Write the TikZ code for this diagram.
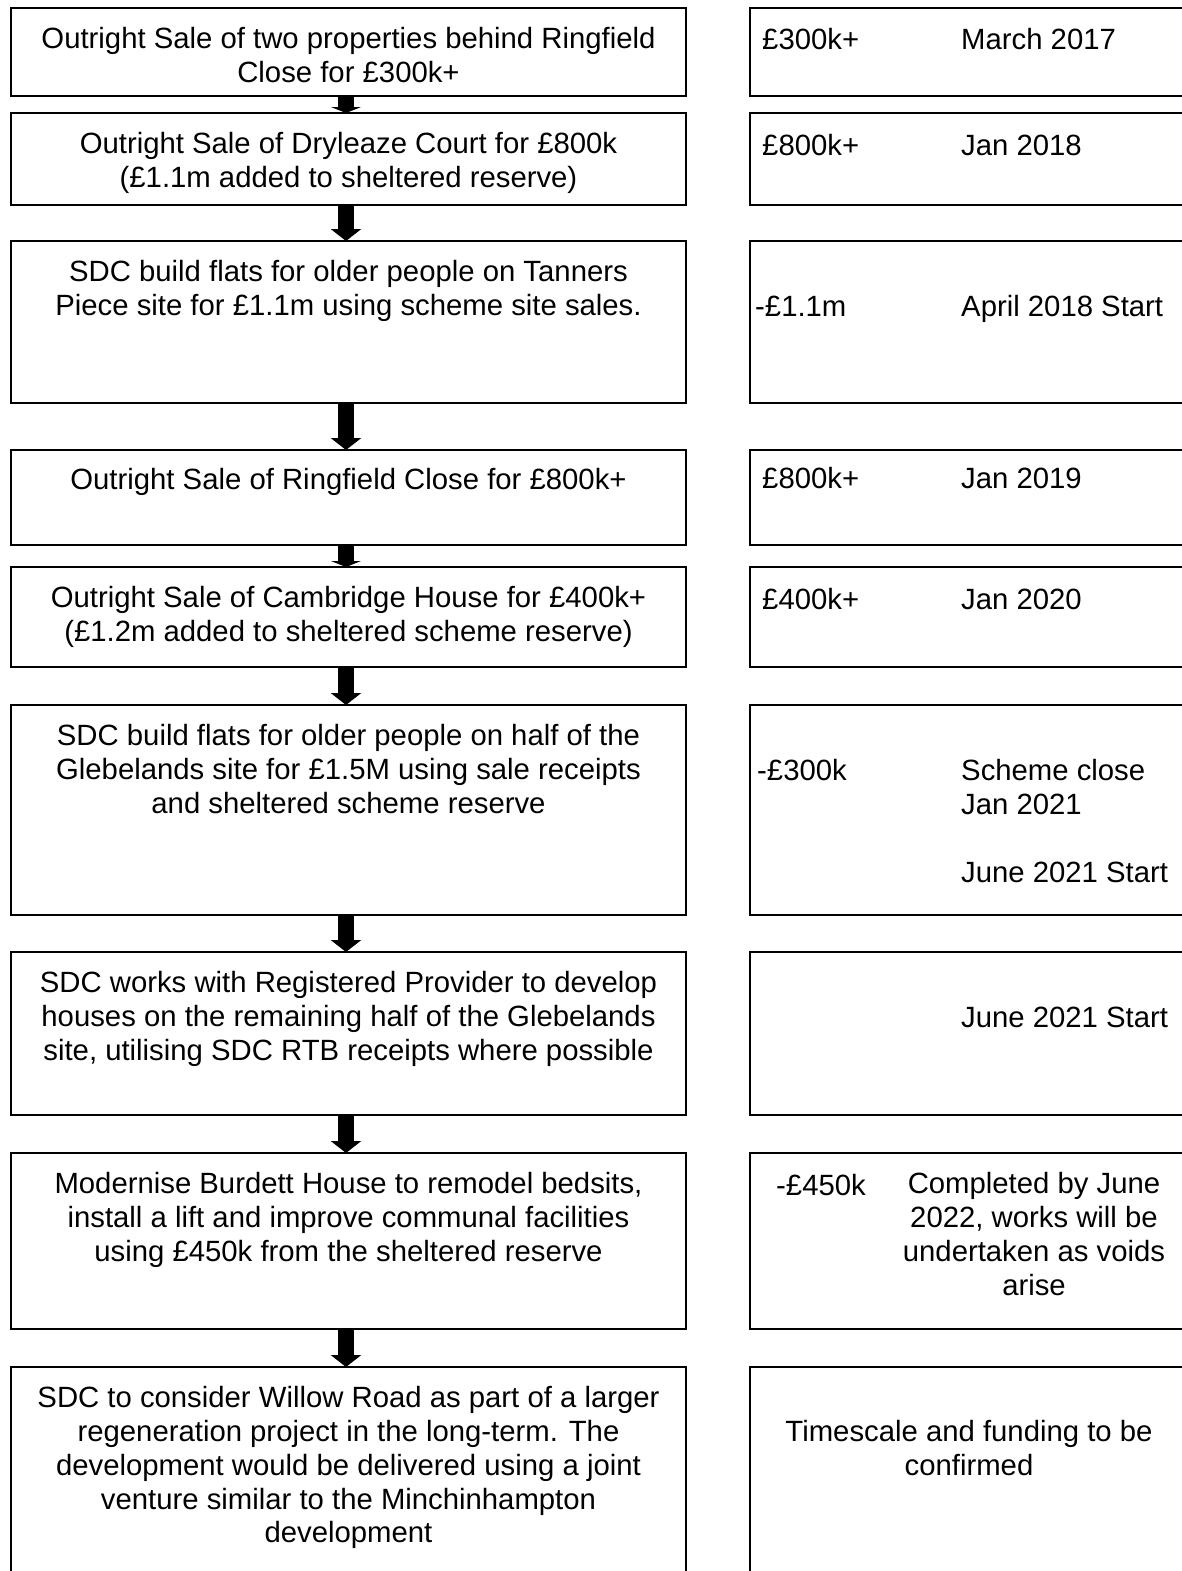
\documentclass[tikz,border=0pt]{standalone}
\usepackage{fontspec}
\setmainfont{Liberation Sans}
\usetikzlibrary{arrows.meta}
\tikzset{
  box/.style={draw, line width=1.6pt, inner sep=0pt, outer sep=0pt, rectangle},
  lbox/.style={box, minimum width=675pt},
  rbox/.style={box, minimum width=460pt},
  txt/.style={inner sep=0pt, align=center, anchor=north, font=\fontsize{29.3}{33.8}\selectfont, execute at begin node=\strut},
  rtxt/.style={inner sep=0pt, anchor=base west, font=\fontsize{29.3}{33.8}\selectfont},
  flow/.style={line width=16pt, -{Triangle[width=30pt,length=12pt]}},
  flowshort/.style={line width=16pt, -{Triangle[width=30pt,length=6pt]}},
}
\begin{document}
\begin{tikzpicture}[x=1pt,y=-1pt]
\clip (0,0) rectangle (1182,1571);
\fill[white] (0,0) rectangle (1182,1571);
\coordinate (ax) at (346,0);
% left boxes
\node[lbox, minimum height=88pt]  (L1) at (348.5,52) {};
\node[lbox, minimum height=92pt]  (L2) at (348.5,159) {};
\node[lbox, minimum height=162pt] (L3) at (348.5,322) {};
\node[lbox, minimum height=95pt]  (L4) at (348.5,497.5) {};
\node[lbox, minimum height=100pt] (L5) at (348.5,617) {};
\node[lbox, minimum height=210pt] (L6) at (348.5,810) {};
\node[lbox, minimum height=163pt] (L7) at (348.5,1033.5) {};
\node[lbox, minimum height=176pt] (L8) at (348.5,1241) {};
\node[lbox, minimum height=213pt] (L9) at (348.5,1473.5) {};
% right boxes
\node[rbox, minimum height=88pt]  (R1) at (980,52) {};
\node[rbox, minimum height=92pt]  (R2) at (980,159) {};
\node[rbox, minimum height=162pt] (R3) at (980,322) {};
\node[rbox, minimum height=95pt]  (R4) at (980,497.5) {};
\node[rbox, minimum height=100pt] (R5) at (980,617) {};
\node[rbox, minimum height=210pt] (R6) at (980,810) {};
\node[rbox, minimum height=163pt] (R7) at (980,1033.5) {};
\node[rbox, minimum height=176pt] (R8) at (980,1241) {};
\node[rbox, minimum height=213pt] (R9) at (980,1473.5) {};
% left texts
\node[txt] (t1) at (348.5,27.3) {Outright Sale of two properties behind Ringfield\\Close for £300k+};
\node[txt] (t2) at (348.5,132.3) {Outright Sale of Dryleaze Court for £800k\\(£1.1m added to sheltered reserve)};
\node[txt] (t3) at (348.5,260.3) {SDC build flats for older people on Tanners\\Piece site for £1.1m using scheme site sales.};
\node[txt] (t4) at (348.5,465.3) {Outright Sale of Ringfield Close for £800k+};
\node[txt] (t5) at (348.5,586.3) {Outright Sale of Cambridge House for £400k+\\(£1.2m added to sheltered scheme reserve)};
\node[txt] (t6) at (348.5,724.3) {SDC build flats for older people on half of the\\Glebelands site for £1.5M using sale receipts\\and sheltered scheme reserve};
\node[txt] (t7) at (348.5,971.3) {SDC works with Registered Provider to develop\\houses on the remaining half of the Glebelands\\site, utilising SDC RTB receipts where possible};
\node[txt] (t8) at (348.5,1172.3) {Modernise Burdett House to remodel bedsits,\\install a lift and improve communal facilities\\using £450k from the sheltered reserve};
\node[txt] (t9) at (348.5,1386.3) {SDC to consider Willow Road as part of a larger\\regeneration project in the long-term. The\\development would be delivered using a joint\\venture similar to the Minchinhampton\\development};
% right texts
\node[rtxt] (a1) at (762,50) {£300k+};
\node[rtxt] (b1) at (961,50) {March 2017};
\node[rtxt] (a2) at (762,155) {£800k+};
\node[rtxt] (b2) at (961,155) {Jan 2018};
\node[rtxt] (a3) at (755,316.8) {-£1.1m};
\node[rtxt] (b3) at (961,316.8) {April 2018 Start};
\node[rtxt] (a4) at (762,488) {£800k+};
\node[rtxt] (b4) at (961,488) {Jan 2019};
\node[rtxt] (a5) at (762,609) {£400k+};
\node[rtxt] (b5) at (961,609) {Jan 2020};
\node[rtxt] (a6) at (757,780.8) {-£300k};
\node[rtxt] (b6) at (961,780.8) {Scheme close};
\node[rtxt] (c6) at (961,814.6) {Jan 2021};
\node[rtxt] (d6) at (961,882.2) {June 2021 Start};
\node[rtxt] (b7) at (961,1027.8) {June 2021 Start};
\node[rtxt] (a8) at (776,1195) {-£450k};
\node[txt] (b8) at (1034,1172.3) {Completed by June\\2022, works will be\\undertaken as voids\\arise};
\node[txt] (b9) at (969,1420.1) {Timescale and funding to be\\confirmed};
% arrows
\draw[flowshort] (L1.south -| ax) -- (L2.north -| ax);
\draw[flow] (L2.south -| ax) -- (L3.north -| ax);
\draw[flow] (L3.south -| ax) -- (L4.north -| ax);
\draw[flowshort] (L4.south -| ax) -- (L5.north -| ax);
\draw[flow] (L5.south -| ax) -- (L6.north -| ax);
\draw[flow] (L6.south -| ax) -- (L7.north -| ax);
\draw[flow] (L7.south -| ax) -- (L8.north -| ax);
\draw[flow] (L8.south -| ax) -- (L9.north -| ax);
\end{tikzpicture}
\end{document}
